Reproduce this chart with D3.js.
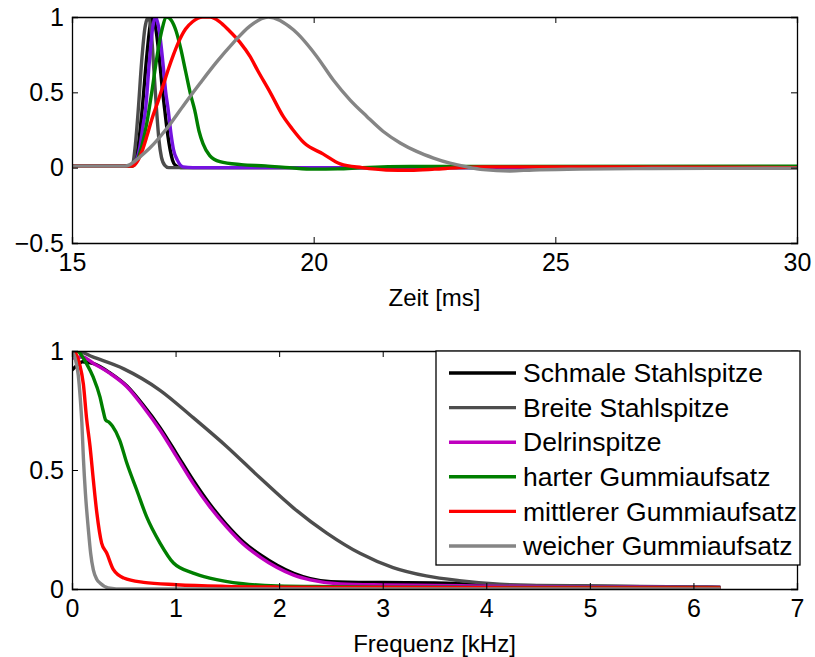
<!DOCTYPE html>
<html><head><meta charset="utf-8">
<script src="https://cdn.jsdelivr.net/npm/d3@7"></script>
<style>
body{margin:0;background:#fff;}
text{font-family:"Liberation Sans",Arial,Helvetica,sans-serif;fill:#000;}
</style></head>
<body><svg id="c" width="815" height="657"></svg>
<script>
// ---------- DATA ----------
const seriesNames = ["Schmale Stahlspitze","Breite Stahlspitze","Delrinspitze","harter Gummiaufsatz","mittlerer Gummiaufsatz","weicher Gummiaufsatz"];
const topColors = ["#000000","#4d4d4d","#7412e0","#007f00","#ff0000","#858585"];
const bottomColors = ["#000000","#4d4d4d","#bf00bf","#007f00","#ff0000","#858585"];

const timeTicks = [15,20,25,30];
const ampTicks = [-0.5,0,0.5,1];
const ampTickLabels = ["\u22120.5","0","0.5","1"];
const freqTicks = [0,1,2,3,4,5,6,7];
const magTicks = [0,0.5,1];
const magTickLabels = ["0","0.5","1"];

// time signals [t (ms), amplitude]
const timeSchmale = [[15,0.01],[16.2,0.01],[16.28,0.02],[16.36,0.12],[16.45,0.38],[16.55,0.75],[16.62,0.95],[16.67,1.0],[16.73,0.93],[16.8,0.75],[16.87,0.52],[16.92,0.38],[16.98,0.22],[17.03,0.12],[17.08,0.05],[17.14,0.015],[17.25,0.0],[30,0.0]];
const timeBreite = [[15,0.01],[16.2,0.01],[16.26,0.03],[16.31,0.15],[16.37,0.38],[16.44,0.7],[16.51,0.93],[16.58,1.0],[16.64,0.9],[16.7,0.62],[16.75,0.38],[16.8,0.18],[16.85,0.07],[16.92,0.015],[17.0,0.0],[30,0.0]];
const timeDelrin = [[15,0.01],[16.2,0.01],[16.3,0.03],[16.4,0.13],[16.47,0.28],[16.52,0.38],[16.6,0.7],[16.67,0.93],[16.73,1.0],[16.8,0.92],[16.88,0.7],[16.94,0.5],[16.99,0.385],[17.05,0.22],[17.1,0.12],[17.18,0.05],[17.3,0.005],[17.5,0.0],[30,0.0]];
const timeHart = [[15,0.01],[16.25,0.01],[16.35,0.05],[16.45,0.15],[16.55,0.3],[16.65,0.5],[16.75,0.72],[16.85,0.9],[16.96,1.0],[17.05,0.98],[17.15,0.91],[17.25,0.79],[17.35,0.64],[17.45,0.49],[17.54,0.38],[17.63,0.24],[17.71,0.16],[17.85,0.08],[18.06,0.04],[18.5,0.02],[19,0.012],[19.5,0.0],[20,-0.01],[20.5,-0.008],[21,0.0],[22,0.008],[30,0.01]];
const timeMittel = [[15,0.01],[16.25,0.01],[16.35,0.04],[16.45,0.11],[16.55,0.21],[16.65,0.32],[16.79,0.45],[16.9,0.56],[17.0,0.66],[17.1,0.75],[17.2,0.83],[17.35,0.92],[17.5,0.97],[17.7,1.0],[17.86,1.0],[18.05,0.97],[18.25,0.91],[18.48,0.83],[18.68,0.74],[18.85,0.64],[19.1,0.5],[19.37,0.34],[19.55,0.26],[19.8,0.165],[20.2,0.09],[20.55,0.025],[21,0.0],[21.5,-0.015],[22,-0.017],[22.5,-0.01],[23,0.0],[23.5,0.005],[25,0.005],[30,0.0]];
const timeWeich = [[15,0.01],[16.1,0.01],[16.2,0.02],[16.4,0.07],[16.61,0.13],[16.96,0.26],[17.3,0.41],[17.65,0.56],[17.99,0.7],[18.34,0.83],[18.68,0.94],[19.06,1.0],[19.58,0.915],[20.06,0.74],[20.41,0.58],[20.75,0.45],[21.1,0.34],[21.44,0.24],[21.79,0.164],[22.13,0.108],[22.48,0.064],[22.82,0.03],[23.17,0.005],[23.51,-0.013],[24.06,-0.022],[24.54,-0.015],[25.5,-0.01],[27,-0.006],[30,-0.004]];

// spectra [f (kHz), normalized magnitude]
const specSchmale = [[0,0.92],[0.05,0.94],[0.1,0.955],[0.21,0.947],[0.37,0.907],[0.53,0.853],[0.69,0.772],[0.85,0.678],[1.01,0.568],[1.17,0.457],[1.33,0.357],[1.49,0.272],[1.65,0.2],[1.82,0.143],[1.98,0.1],[2.14,0.066],[2.3,0.044],[2.5,0.031],[3.0,0.027],[3.5,0.025],[4.0,0.018],[4.5,0.014],[5.0,0.012],[5.5,0.01],[6.0,0.008],[6.26,0.007]];
const specBreite = [[0,0.99],[0.05,1.0],[0.2,0.975],[0.5,0.925],[0.85,0.835],[1.17,0.72],[1.49,0.6],[1.82,0.465],[2.14,0.34],[2.46,0.235],[2.78,0.15],[3.1,0.09],[3.42,0.055],[3.74,0.035],[4.13,0.02],[4.5,0.015],[5.0,0.013],[5.5,0.011],[6.0,0.009],[6.26,0.008]];
const specDelrin = [[0,0.97],[0.1,0.975],[0.21,0.947],[0.37,0.905],[0.53,0.85],[0.69,0.765],[0.85,0.668],[1.01,0.556],[1.17,0.444],[1.33,0.346],[1.49,0.262],[1.65,0.19],[1.82,0.133],[1.98,0.09],[2.14,0.058],[2.3,0.038],[2.59,0.021],[3.0,0.017],[3.5,0.015],[4.0,0.012],[5.0,0.009],[6.0,0.007],[6.26,0.006]];
const specHart = [[0,1.02],[0.06,1.0],[0.14,0.947],[0.205,0.89],[0.27,0.807],[0.3,0.75],[0.325,0.71],[0.36,0.7],[0.39,0.685],[0.46,0.626],[0.53,0.528],[0.625,0.416],[0.72,0.304],[0.85,0.193],[0.98,0.109],[1.17,0.067],[1.33,0.046],[1.65,0.022],[1.98,0.013],[2.5,0.01],[3,0.008],[4,0.007],[5,0.006],[6.26,0.005]];
const specMittel = [[0,1.05],[0.03,1.0],[0.07,0.95],[0.11,0.86],[0.14,0.72],[0.174,0.6],[0.206,0.458],[0.24,0.319],[0.286,0.193],[0.335,0.151],[0.4,0.081],[0.5,0.046],[0.69,0.028],[1.01,0.018],[1.49,0.011],[2,0.008],[3,0.006],[4,0.005],[5,0.004],[6.26,0.004]];
const specWeich = [[0,1.0],[0.03,0.97],[0.06,0.9],[0.08,0.8],[0.095,0.7],[0.11,0.55],[0.13,0.4],[0.158,0.25],[0.18,0.15],[0.206,0.08],[0.24,0.04],[0.27,0.025],[0.35,0.005],[0.5,0.0],[6.26,0.0]];

const timeSeries = [timeSchmale,timeBreite,timeDelrin,timeHart,timeMittel,timeWeich];
const specSeries = [specSchmale,specBreite,specDelrin,specHart,specMittel,specWeich];

// ---------- DRAW ----------
const svg = d3.select("#c");
const FS = 25;
const LFS = 26.5;

function panel(id, box, xDom, yDom, xTicks, xLabels, yTicks, yLabels, xTitle, data, colors){
  const x = d3.scaleLinear().domain(xDom).range([box.l, box.r]);
  const y = d3.scaleLinear().domain(yDom).range([box.b, box.t]);
  svg.append("clipPath").attr("id", id).append("rect")
    .attr("x", box.l).attr("y", box.t).attr("width", box.r-box.l).attr("height", box.b-box.t);
  const g = svg.append("g");
  const line = d3.line().x(d=>x(d[0])).y(d=>y(d[1])).curve(d3.curveMonotoneX);
  const lg = g.append("g").attr("clip-path", `url(#${id})`);
  data.forEach((s,i)=>{
    lg.append("path").attr("d", line(s)).attr("fill","none")
      .attr("stroke", colors[i]).attr("stroke-width",3.4).attr("stroke-linejoin","round");
  });
  const ax = g.append("g");
  const tl = 6;
  const bottom = d3.axisBottom(x).tickValues(xTicks).tickSize(-tl).tickPadding(10).tickFormat((d,i)=>xLabels[i]);
  const top = d3.axisTop(x).tickValues(xTicks).tickSize(-tl).tickFormat("");
  const left = d3.axisLeft(y).tickValues(yTicks).tickSize(-tl).tickPadding(8).tickFormat((d,i)=>yLabels[i]);
  const right = d3.axisRight(y).tickValues(yTicks).tickSize(-tl).tickFormat("");
  ax.append("g").attr("transform",`translate(0,${box.b})`).call(bottom);
  ax.append("g").attr("transform",`translate(0,${box.t})`).call(top);
  ax.append("g").attr("transform",`translate(${box.l},0)`).call(left);
  ax.append("g").attr("transform",`translate(${box.r},0)`).call(right);
  ax.selectAll(".domain").attr("stroke","#000").attr("stroke-width",1.3);
  ax.selectAll(".tick line").attr("stroke","#000").attr("stroke-width",1);
  ax.selectAll(".tick text").attr("font-size",FS).attr("font-family",'"Liberation Sans",Arial,sans-serif').attr("fill","#000");
  g.append("text").attr("x",(box.l+box.r)/2).attr("y",box.b+63).attr("text-anchor","middle")
    .attr("font-size",24).text(xTitle);
  return {x,y,g};
}

panel("clipTop",{l:72,r:797,t:17,b:243},[15,30],[-0.5,1],timeTicks,timeTicks.map(String),ampTicks,ampTickLabels,"Zeit [ms]",timeSeries,topColors);
panel("clipBot",{l:72,r:797,t:351,b:589},[0,7],[0,1],freqTicks,freqTicks.map(String),magTicks,magTickLabels,"Frequenz [kHz]",specSeries,bottomColors);

// legend
const leg = svg.append("g");
leg.append("rect").attr("x",436).attr("y",351).attr("width",364).attr("height",214)
  .attr("fill","#fff").attr("stroke","#000").attr("stroke-width",1.3);
const rowY = d3.scaleLinear().domain([0,5]).range([373,546]);
seriesNames.forEach((n,i)=>{
  leg.append("line").attr("x1",449).attr("x2",516).attr("y1",rowY(i)).attr("y2",rowY(i))
    .attr("stroke",bottomColors[i]).attr("stroke-width",3.4);
  leg.append("text").attr("x",523).attr("y",rowY(i)).attr("dy","0.35em").attr("font-size",LFS).text(n);
});
</script></body></html>
